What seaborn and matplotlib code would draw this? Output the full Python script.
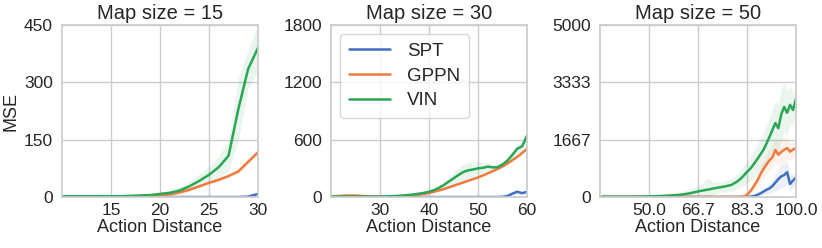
import numpy as np
import matplotlib
matplotlib.use("Agg")
import matplotlib.pyplot as plt
import seaborn as sns

# ---- data ----
methods = ["SPT", "GPPN", "VIN"]
colors = {"SPT": "#3f6fc0", "GPPN": "#ee7b3d", "VIN": "#2aa654"}
titles = ["Map size = 15", "Map size = 30", "Map size = 50"]
xlims = [(10, 30), (20, 60), (33.3, 100)]
ymaxs = [450, 1800, 5000]

# map size 15
x1 = list(range(10, 31))
spt1 = [0, 0, 0, 0, 0, 0, 0, 0, 0, 0, 0, 0, 0, 0, 0, 0, 0, 0, 0, 1, 8]
gppn1 = [1, 1, 1, 1, 1, 1, 1, 1, 1, 2, 3, 7, 12, 19, 28, 37, 45, 55, 67, 92, 117]
vin1 = [2, 2, 2, 2, 2, 2, 2, 3, 4, 5, 8, 11, 17, 28, 42, 58, 78, 108, 230, 335, 390]
spt1_err = [0, 0, 0, 0, 0, 0, 0, 0, 0, 0, 0, 0, 0, 0, 0, 0, 0, 0, 1, 1, 3]
gppn1_err = [0, 0, 0, 0, 0, 0, 0, 0, 0, 1, 1, 2, 2, 3, 4, 4, 5, 5, 6, 7, 8]
vin1_err = [1, 1, 1, 1, 1, 1, 1, 1, 2, 3, 4, 6, 9, 13, 18, 22, 28, 40, 80, 50, 60]

# map size 30
x2 = list(range(20, 61))
spt2 = [0] * 35 + [2, 10, 35, 55, 40, 55]
gppn2 = [5, 8, 12, 15, 16, 15, 12, 8, 5, 3, 3, 3, 4, 5, 7, 10, 14, 19, 25, 32,
         42, 55, 68, 83, 100, 118, 135, 152, 170, 188, 205, 225, 248, 270, 295,
         320, 350, 385, 420, 460, 505]
vin2 = [5, 5, 5, 5, 5, 5, 5, 5, 5, 5, 5, 6, 8, 10, 13, 17, 22, 28, 35, 44,
        55, 72, 95, 125, 160, 195, 230, 262, 280, 288, 300, 305, 318, 310, 312,
        340, 380, 440, 505, 530, 640]
spt2_err = [0] * 35 + [2, 6, 15, 25, 15, 12]
gppn2_err = [2] * 20 + [3, 3, 4, 4, 5, 5, 6, 6, 7, 7, 8, 8, 9, 9, 10, 10, 11, 12, 13, 14, 15]
vin2_err = [2] * 15 + [3, 4, 5, 6, 8, 10, 14, 20, 30, 45, 60, 75, 85, 85, 75, 65,
                       55, 45, 40, 35, 30, 35, 40, 45, 50, 55]

# map size 50
x3 = [34, 36, 38, 40, 42, 44, 46, 48, 50, 52, 54, 56, 58, 60, 62, 64, 66, 68,
      70, 72, 74, 76, 78, 80, 81, 82, 83, 84, 85, 86, 87, 88, 89, 90, 91, 92,
      93, 94, 95, 96, 97, 98, 99, 100]
spt3 = [0] * 27 + [5, 15, 35, 70, 110, 160, 210, 250, 320, 420, 520, 600, 640,
                   720, 380, 480, 560]
gppn3 = [3] * 23 + [5, 8, 15, 40, 120, 230, 360, 500, 680, 820, 950, 1070, 1150,
                    1370, 1230, 1310, 1370, 1420, 1320, 1380, 1420]
vin3 = [10, 8, 8, 8, 8, 9, 10, 12, 18, 24, 30, 38, 48, 60, 80, 110, 150, 185,
        215, 250, 280, 310, 350, 450, 520, 600, 700, 780, 880, 1000, 1120, 1250,
        1380, 1560, 1750, 1950, 2150, 2000, 2400, 2620, 2450, 2680, 2530, 2850]
spt3_err = [0] * 27 + [5, 10, 20, 40, 60, 90, 120, 150, 190, 250, 300, 330, 340,
                       330, 250, 200, 180]
gppn3_err = [5] * 23 + [8, 10, 15, 30, 60, 100, 140, 180, 220, 250, 280, 300, 320,
                        350, 350, 380, 350, 300, 250, 220, 200]
vin3_err = [150, 20, 15, 15, 15, 15, 20, 25, 30, 40, 50, 60, 70, 80, 100, 130, 160,
            200, 330, 180, 150, 160, 180, 220, 250, 280, 310, 340, 370, 400, 430,
            460, 490, 520, 560, 600, 650, 700, 750, 700, 650, 550, 450, 350]

panels = [
    (x1, {"SPT": spt1, "GPPN": gppn1, "VIN": vin1},
     {"SPT": spt1_err, "GPPN": gppn1_err, "VIN": vin1_err}),
    (x2, {"SPT": spt2, "GPPN": gppn2, "VIN": vin2},
     {"SPT": spt2_err, "GPPN": gppn2_err, "VIN": vin2_err}),
    (x3, {"SPT": spt3, "GPPN": gppn3, "VIN": vin3},
     {"SPT": spt3_err, "GPPN": gppn3_err, "VIN": vin3_err}),
]

sns.set_theme(style="whitegrid")
plt.rcParams["font.family"] = ["Liberation Sans", "DejaVu Sans"]

fig = plt.figure(figsize=(8.22, 2.48), dpi=100)
lefts = [0.0754, 0.4027, 0.7299]

for i, (x, means, errs) in enumerate(panels):
    ax = fig.add_axes([lefts[i], 0.2056, 0.2384, 0.6935])
    for m in methods:
        y = np.array(means[m], dtype=float)
        e = np.array(errs[m], dtype=float)
        ax.fill_between(x, np.clip(y - e, 0, None), y + e,
                        color=colors[m], alpha=0.1, linewidth=0)
        sns.lineplot(x=x, y=y, ax=ax, color=colors[m], linewidth=1.8, label=m)

    lo, hi = xlims[i]
    ax.set_xlim(lo, hi)
    ax.set_ylim(0, ymaxs[i])
    xt = np.linspace(lo, hi, 5)[1:]
    ax.set_xticks(xt)
    if i == 2:
        ax.set_xticklabels([f"{v:.1f}" for v in xt])
    else:
        ax.set_xticklabels([f"{v:.0f}" for v in xt])
    yt = np.linspace(0, ymaxs[i], 4)
    ax.set_yticks(yt)
    ax.set_yticklabels([f"{v:.0f}" for v in yt])
    ax.tick_params(axis="x", labelsize=12.5, length=0, pad=4)
    ax.tick_params(axis="y", labelsize=12.5, length=0, pad=6.5)
    ax.set_title(titles[i], fontsize=14.5, pad=4)
    ax.set_xlabel("Action Distance", fontsize=13, labelpad=1)
    ax.set_ylabel("MSE" if i == 0 else "", fontsize=13, labelpad=3)
    if i == 1:
        ax.legend(loc="upper left", fontsize=13.5, handlelength=2.2,
                  handletextpad=0.9, borderpad=0.45, labelspacing=0.4)
    else:
        ax.get_legend().remove()

fig.savefig("out.png", dpi=100)
